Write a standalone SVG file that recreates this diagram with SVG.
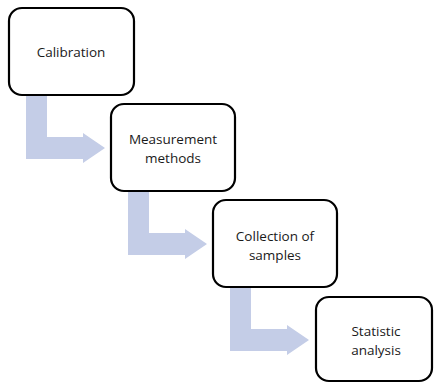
<svg xmlns="http://www.w3.org/2000/svg" width="434" height="383" viewBox="0 0 434 383">
<style>
.box{fill:#ffffff;stroke:#000000;stroke-width:2.2}
.arr{fill:#c4cde7;stroke:none}
.t{font-family:"Open Sans","Liberation Sans",sans-serif;font-size:13.5px;fill:#1a1a1a;text-anchor:middle}
</style>
<rect width="434" height="383" fill="#ffffff"/>
<g id="connectors">
<path class="arr" d="M26 90 L47 90 L47 137 L83 137 L83 133 L105 148 L83 163 L83 159 L26 159 Z"/>
<path class="arr" d="M128 186 L149 186 L149 233 L185 233 L185 229 L207 244 L185 259 L185 255 L128 255 Z"/>
<path class="arr" d="M230 282 L251 282 L251 329 L287 329 L287 325 L309 340 L287 355 L287 351 L230 351 Z"/>
</g>
<g id="node1">
<rect class="box" x="9" y="8" width="125" height="87" rx="13"/>
<text class="t" x="71" y="57">Calibration</text>
</g>
<g id="node2">
<rect class="box" x="111" y="104" width="124" height="87" rx="13"/>
<text class="t" x="173" y="144">Measurement</text>
<text class="t" x="173" y="162.5">methods</text>
</g>
<g id="node3">
<rect class="box" x="213" y="200" width="124" height="87" rx="13"/>
<text class="t" x="275" y="241">Collection of</text>
<text class="t" x="275" y="259.5">samples</text>
</g>
<g id="node4">
<rect class="box" x="316" y="297" width="116" height="84" rx="13"/>
<text class="t" x="376" y="336">Statistic</text>
<text class="t" x="376" y="354.5">analysis</text>
</g>
</svg>
